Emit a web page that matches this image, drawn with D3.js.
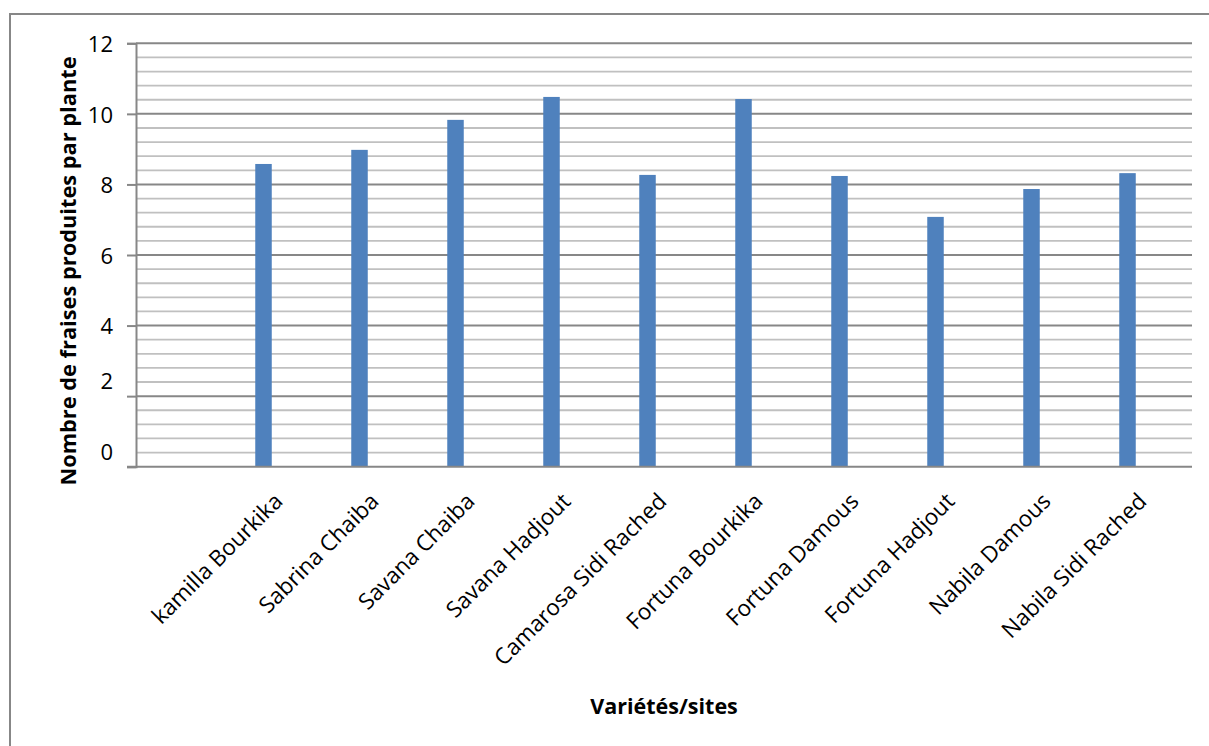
<!DOCTYPE html>
<html>
<head>
<meta charset="utf-8">
<script src="https://cdn.jsdelivr.net/npm/d3@7"></script>
<style>
  body { margin: 0; background: #fff; }
  svg { display: block; font-family: "Open Sans", sans-serif; }
</style>
</head>
<body>
<script>
// first category is an empty row in the source sheet
const categories = ["", "kamilla Bourkika", "Sabrina Chaiba", "Savana Chaiba", "Savana Hadjout",
  "Camarosa Sidi Rached", "Fortuna Bourkika", "Fortuna Damous", "Fortuna Hadjout",
  "Nabila Damous", "Nabila Sidi Rached"];
const values = [null, 8.58, 8.98, 9.83, 10.48, 8.27, 10.42, 8.24, 7.08, 7.87, 8.32];
const yTicks = [0, 2, 4, 6, 8, 10, 12];
const yTitle = "Nombre de fraises produites par plante";
const xTitle = "Variétés/sites";

const W = 1209, H = 746;
const plot = {left: 136, right: 1192, top: 43.3, bottom: 466.7};
const gridMajor = "#878787", gridMinor = "#c0c0c0", barColor = "#4f81bd";

const svg = d3.select("body").append("svg")
  .attr("width", W).attr("height", H);

// chart frame (runs off the page on the right and bottom)
svg.append("rect")
  .attr("x", 10).attr("y", 14).attr("width", 1400).attr("height", 900)
  .attr("fill", "none").attr("stroke", gridMajor).attr("stroke-width", 2);

const x = d3.scaleBand().domain(categories).range([plot.left, plot.right]);
// three series slots per category, only the first one is filled
const xSub = d3.scaleBand().domain([0, 1, 2]).range([0, x.bandwidth()]).paddingOuter(1.41);
const y = d3.scaleLinear().domain([0, 12]).range([plot.bottom, plot.top]);

// minor gridlines
const minor = d3.range(0, 12.001, 0.4).filter(v => Math.abs(v / 2 - Math.round(v / 2)) > 0.01);
svg.append("g").selectAll("line").data(minor).join("line")
  .attr("x1", plot.left).attr("x2", plot.right)
  .attr("y1", d => y(d)).attr("y2", d => y(d))
  .attr("stroke", gridMinor).attr("stroke-width", 1.8);

// major gridlines
svg.append("g").selectAll("line").data(yTicks.filter(d => d > 0)).join("line")
  .attr("x1", plot.left).attr("x2", plot.right)
  .attr("y1", d => y(d)).attr("y2", d => y(d))
  .attr("stroke", gridMajor).attr("stroke-width", 2);

// bars
svg.append("g").selectAll("rect")
  .data(categories.map((c, i) => ({c: c, v: values[i]})).filter(d => d.v != null))
  .join("rect")
  .attr("x", d => x(d.c) + xSub(0))
  .attr("width", xSub.bandwidth())
  .attr("y", d => y(d.v))
  .attr("height", d => y(0) - y(d.v))
  .attr("fill", barColor);

// y axis
const yAxis = svg.append("g")
  .attr("transform", `translate(${plot.left},0)`)
  .call(d3.axisLeft(y).tickValues(yTicks).tickSize(9).tickPadding(14).tickFormat(d3.format("d")));
yAxis.select(".domain").attr("stroke", gridMajor).attr("stroke-width", 2);
yAxis.selectAll(".tick line").attr("stroke", gridMajor).attr("stroke-width", 2);
yAxis.selectAll(".tick text")
  .attr("font-size", 22).attr("fill", "#000").attr("font-family", "Open Sans")
  // the two lowest labels sit higher than their ticks in the original
  .attr("dy", d => d <= 2 ? "-0.33em" : "0.38em");

// x axis
const xAxis = svg.append("g")
  .attr("transform", `translate(0,${plot.bottom})`)
  .call(d3.axisBottom(x).tickSize(0).tickSizeOuter(0));
xAxis.select(".domain").remove();
xAxis.append("line")
  .attr("x1", plot.left - 9).attr("x2", plot.right)
  .attr("stroke", gridMajor).attr("stroke-width", 2);
xAxis.selectAll(".tick text")
  .attr("y", 0).attr("dy", 0)
  .attr("transform", "translate(4,36) rotate(-45)")
  .style("text-anchor", "end")
  .attr("font-size", 22.5).attr("fill", "#000").attr("font-family", "Open Sans");

// axis titles
svg.append("text")
  .attr("x", (plot.left + plot.right) / 2).attr("y", 714)
  .attr("text-anchor", "middle")
  .attr("font-size", 21.5).attr("font-weight", "bold")
  .text(xTitle);

svg.append("text")
  .attr("transform", `translate(76,271) rotate(-90)`)
  .attr("text-anchor", "middle")
  .attr("font-size", 21.8).attr("font-weight", "bold")
  .text(yTitle);
</script>
</body>
</html>
